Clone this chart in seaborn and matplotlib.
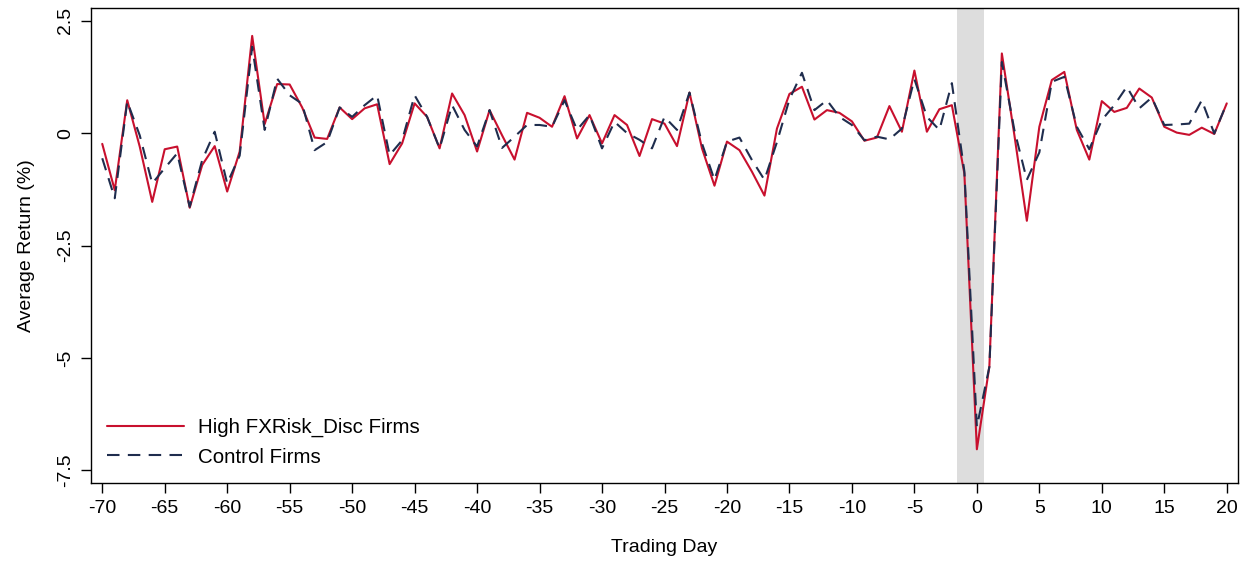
import numpy as np
import pandas as pd
import matplotlib
matplotlib.use("Agg")
import matplotlib.pyplot as plt
import seaborn as sns

days = list(range(-70, 21))

high_fx = [
    -0.24, -1.27, 0.73, -0.30, -1.53, -0.36, -0.30, -1.66, -0.71, -0.29,
    -1.30, -0.41, 2.16, 0.20, 1.09, 1.08, 0.57, -0.10, -0.13, 0.57,
    0.31, 0.55, 0.64, -0.69, -0.23, 0.66, 0.36, -0.34, 0.88, 0.40,
    -0.41, 0.51, -0.05, -0.59, 0.45, 0.34, 0.14, 0.82, -0.12, 0.40,
    -0.23, 0.40, 0.18, -0.51, 0.31, 0.21, -0.29, 0.90, -0.34, -1.17,
    -0.19, -0.38, -0.86, -1.39, 0.10, 0.87, 1.03, 0.30, 0.51, 0.45,
    0.26, -0.17, -0.10, 0.60, 0.03, 1.39, 0.03, 0.53, 0.62, -0.90,
    -7.03, -5.19, 1.77, -0.04, -1.95, 0.14, 1.18, 1.36, 0.07, -0.59,
    0.71, 0.47, 0.56, 0.99, 0.79, 0.14, 0.01, -0.04, 0.12, -0.02, 0.66,
]

control = [
    -0.56, -1.45, 0.70, -0.05, -1.12, -0.78, -0.45, -1.64, -0.60, 0.03,
    -1.12, -0.50, 1.92, 0.07, 1.21, 0.84, 0.65, -0.38, -0.20, 0.57,
    0.36, 0.62, 0.84, -0.49, -0.16, 0.84, 0.36, -0.34, 0.62, 0.07,
    -0.30, 0.51, -0.33, -0.08, 0.18, 0.18, 0.14, 0.73, 0.07, 0.40,
    -0.34, 0.25, 0.00, -0.15, -0.34, 0.36, 0.07, 0.90, -0.23, -1.04,
    -0.19, -0.10, -0.60, -1.04, -0.20, 0.75, 1.34, 0.51, 0.73, 0.36,
    0.18, -0.16, -0.08, -0.14, 0.10, 1.20, 0.36, 0.07, 1.11, -0.85,
    -6.53, -5.20, 1.58, 0.07, -1.04, -0.43, 1.14, 1.25, 0.14, -0.36,
    0.29, 0.62, 1.03, 0.55, 0.79, 0.18, 0.19, 0.21, 0.73, -0.01, 0.66,
]

series_names = ["High FXRisk_Disc Firms", "Control Firms"]
x_ticks = list(range(-70, 21, 5))
y_ticks = [2.5, 0, -2.5, -5, -7.5]
y_tick_labels = ["2.5", "0", "-2.5", "-5", "-7.5"]

df = pd.DataFrame({
    "day": days * 2,
    "ret": high_fx + control,
    "group": [series_names[0]] * len(days) + [series_names[1]] * len(days),
})

sns.set_theme(style="ticks")
plt.rcParams["font.family"] = ["Liberation Sans", "DejaVu Sans"]
plt.rcParams["text.color"] = "black"
plt.rcParams["axes.labelcolor"] = "black"
plt.rcParams["xtick.color"] = "black"
plt.rcParams["ytick.color"] = "black"

fig = plt.figure(figsize=(12.5, 5.65), dpi=100)
ax = fig.add_axes([0.0728, 0.1451, 0.9176, 0.8407])

ax.axvspan(-1.55, 0.6, color="#DDDDDD", lw=0, zorder=0)

sns.lineplot(
    data=df, x="day", y="ret", hue="group", style="group",
    palette={series_names[0]: "#C8102E", series_names[1]: "#1F2D4E"},
    dashes={series_names[0]: "", series_names[1]: (6, 4)},
    linewidth=1.5, ax=ax, zorder=3,
)

ax.set_xlim(-70.9, 20.9)
ax.set_ylim(-7.78, 2.78)
ax.set_xticks(x_ticks)
ax.set_xticklabels([str(t) for t in x_ticks], fontsize=14)
ax.set_yticks(y_ticks)
ax.set_yticklabels(y_tick_labels, fontsize=14, rotation=90, va="center")
ax.tick_params(axis="both", direction="out", length=7, width=1, colors="black", pad=5)
for s in ax.spines.values():
    s.set_color("black")
    s.set_linewidth(1)

ax.set_xlabel("Trading Day", fontsize=14, labelpad=16)
ax.set_ylabel("Average Return (%)", fontsize=14, labelpad=16)

leg = ax.legend(loc="lower left", frameon=False, fontsize=14.8, handlelength=3.7,
                handletextpad=0.7, labelspacing=0.5, borderaxespad=0.4,
                bbox_to_anchor=(0.0, 0.0))
for line in leg.get_lines():
    line.set_linewidth(1.5)
for t in leg.get_texts():
    t.set_color("black")

fig.savefig("out.png", dpi=100)
